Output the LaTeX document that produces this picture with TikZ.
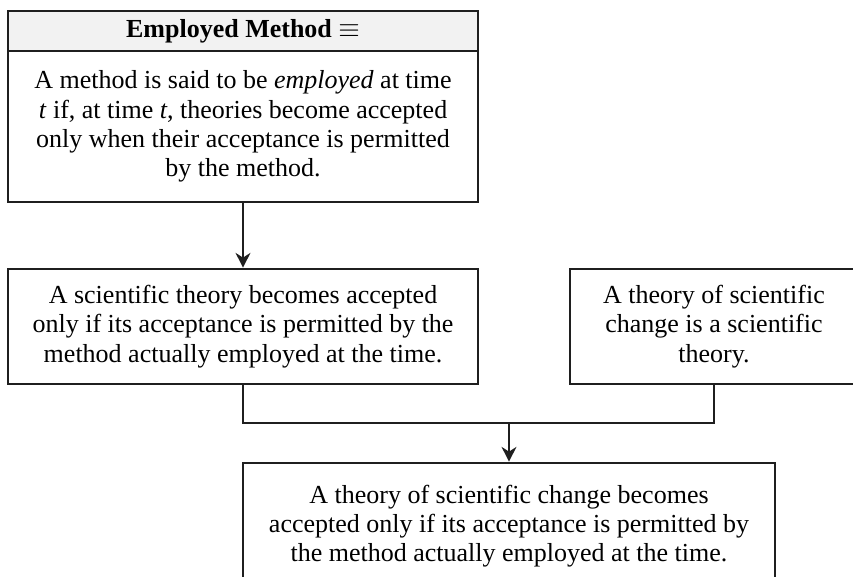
\documentclass[tikz,border=0pt]{standalone}
\usepackage{fontspec}
\setmainfont{Liberation Serif}
\usetikzlibrary{arrows.meta}
\begin{document}
\begin{tikzpicture}[x=0.75pt,y=-0.75pt,
  box/.style={draw=black!88, line width=2pt, rectangle, inner sep=0pt,
    align=center, font=\fontsize{19.5pt}{22pt}\selectfont},
  header/.style={box, fill=black!5},
  link/.style={draw=black!88, line width=2pt},
  arrow/.style={link, -{Stealth[length=11pt,width=11pt,inset=3.5pt]}}]
\clip (0,0) rectangle (853,577);
\fill[white] (0,0) rectangle (853,577);

% definition box
\node[header, minimum width=352.5pt, minimum height=30pt] (head) at (243,31)
  {\textbf{Employed Method} $\equiv$};
\node[box, minimum width=352.5pt, minimum height=113.25pt] (def) at (243,126.5)
  {A method is said to be \textit{employed} at time\\
   \textit{t} if, at time \textit{t}, theories become accepted\\
   only when their acceptance is permitted\\
   by the method.};

% premises
\node[box, minimum width=352.5pt, minimum height=86.25pt] (prem) at (243,326.5)
  {A scientific theory becomes accepted\\
   only if its acceptance is permitted by the\\
   method actually employed at the time.};
\node[box, minimum width=216pt, minimum height=86.25pt] (tsc) at (714,326.5)
  {A theory of scientific\\
   change is a scientific\\
   theory.};

% conclusion
\node[box, minimum width=399pt, minimum height=94.5pt] (concl) at (509,526)
  {A theory of scientific change becomes\\
   accepted only if its acceptance is permitted by\\
   the method actually employed at the time.};

% connectors
\coordinate (join) at (509,423);
\draw[arrow] (def.south) -- (prem.north);
\draw[link] (prem.south) -- (prem.south |- join) -- (tsc.south |- join) -- (tsc.south);
\draw[arrow] (join) -- (concl.north);
\end{tikzpicture}
\end{document}
